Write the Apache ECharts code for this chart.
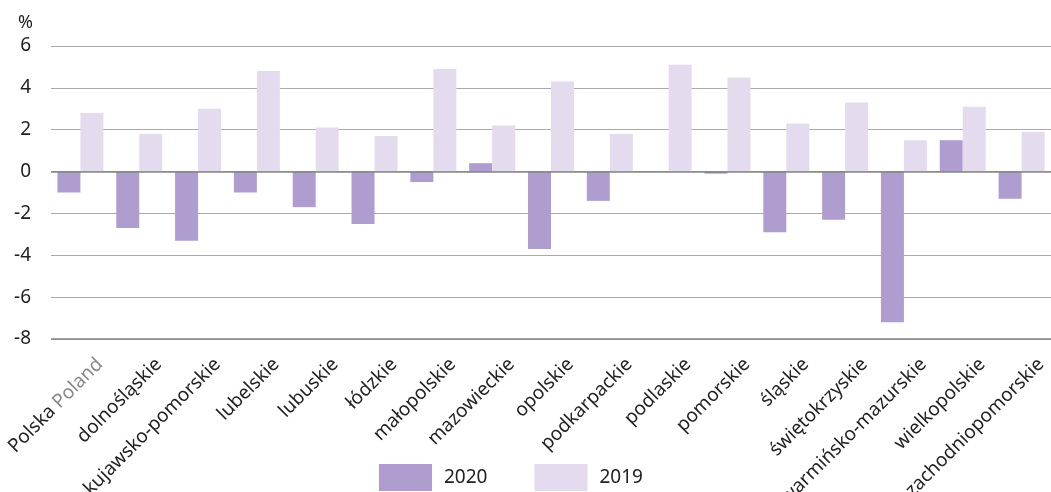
<!DOCTYPE html>
<html>
<head>
<meta charset="utf-8">
<script src="https://cdn.jsdelivr.net/npm/echarts@6/dist/echarts.min.js"></script>
<style>html,body{margin:0;padding:0;background:#fff}#c{width:1051px;height:492px}</style>
</head>
<body>
<div id="c"></div>
<script>
const categories = ["Polska Poland","dolnośląskie","kujawsko-pomorskie","lubelskie","lubuskie","łódzkie","małopolskie","mazowieckie","opolskie","podkarpackie","podlaskie","pomorskie","śląskie","świętokrzyskie","warmińsko-mazurskie","wielkopolskie","zachodniopomorskie"];
const values2020 = [-1.0,-2.7,-3.3,-1.0,-1.7,-2.5,-0.5,0.4,-3.7,-1.4,0.0,-0.1,-2.9,-2.3,-7.2,1.5,-1.3];
const values2019 = [2.8,1.8,3.0,4.8,2.1,1.7,4.9,2.2,4.3,1.8,5.1,4.5,2.3,3.3,1.5,3.1,1.9];
const yTicks = {min:-8,max:6,interval:2};
const font = "'Noto Sans', sans-serif";

const chart = echarts.init(document.getElementById('c'), null, {renderer:'canvas'});
chart.setOption({
  animation:false,
  textStyle:{fontFamily:font},
  grid:{left:51,right:0,top:46,bottom:153,containLabel:false,outerBoundsMode:'none'},
  legend:{
    left:379,bottom:1,padding:0,itemWidth:53,itemHeight:27,itemGap:47,
    icon:'rect',
    textStyle:{fontSize:19,color:'#222',fontFamily:font,padding:[0,0,0,7]},
    data:['2020','2019']
  },
  xAxis:{
    type:'category',data:categories,
    axisLine:{show:false},axisTick:{show:false},
    axisLabel:{
      rotate:45,interval:0,margin:3,fontSize:19,color:'#222',fontFamily:font,
      align:'right',verticalAlign:'top',padding:[18,0,0,0],
      formatter:function(v){ if(v==='Polska Poland') return '{a|Polska }{b|Poland}'; return v; },
      rich:{a:{fontSize:19,color:'#222',fontFamily:font},b:{fontSize:19,color:'#888',fontFamily:font}}
    }
  },
  yAxis:{
    type:'value',min:yTicks.min,max:yTicks.max,interval:yTicks.interval,
    name:'%',nameLocation:'end',nameGap:14,
    nameTextStyle:{fontSize:18,color:'#222',padding:[0,51,0,0],fontFamily:font},
    axisLine:{show:false},axisTick:{show:false},
    axisLabel:{fontSize:19,color:'#222',margin:20,fontFamily:font},
    splitLine:{lineStyle:{color:'#aaaaaa',width:1}}
  },
  series:[
    {name:'2020',type:'bar',data:values2020,barWidth:23,barGap:'0%',
     itemStyle:{color:'#b09dd0'},
     markLine:{symbol:'none',silent:true,label:{show:false},lineStyle:{color:'#858585',width:1.5,type:'solid'},data:[{yAxis:0},{yAxis:-8}]}},
    {name:'2019',type:'bar',data:values2019,barWidth:23,barGap:'0%',
     itemStyle:{color:'#e4dcee'}}
  ]
});
</script>
</body>
</html>
